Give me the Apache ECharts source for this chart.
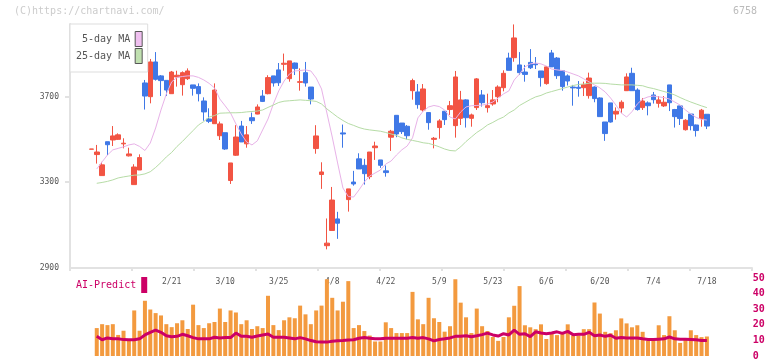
<!DOCTYPE html>
<html><head><meta charset="utf-8">
<script src="https://cdn.jsdelivr.net/npm/echarts@6/dist/echarts.min.js"></script>
<style>html,body{margin:0;padding:0;background:#fff}#c{width:772px;height:361px}</style>
</head><body><div id="c"></div>
<script>
const dates = ['1/30','1/31','2/3','2/4','2/5','2/6','2/7','2/10','2/12','2/13','2/14','2/17','2/18','2/19','2/20','2/21','2/25','2/26','2/27','2/28','3/3','3/4','3/5','3/6','3/7','3/10','3/11','3/12','3/13','3/14','3/17','3/18','3/19','3/21','3/24','3/25','3/26','3/27','3/28','3/31','4/1','4/2','4/3','4/4','4/7','4/8','4/9','4/10','4/11','4/14','4/15','4/16','4/17','4/18','4/21','4/22','4/23','4/24','4/25','4/28','4/30','5/1','5/2','5/7','5/8','5/9','5/12','5/13','5/14','5/15','5/16','5/19','5/20','5/21','5/22','5/23','5/26','5/27','5/28','5/29','5/30','6/2','6/3','6/4','6/5','6/6','6/9','6/10','6/11','6/12','6/13','6/16','6/17','6/18','6/19','6/20','6/23','6/24','6/25','6/26','6/27','6/30','7/1','7/2','7/3','7/4','7/7','7/8','7/9','7/10','7/11','7/14','7/15','7/16','7/17','7/18'];
const dateLabels = ['2/21','3/10','3/25','4/8','4/22','5/9','5/23','6/6','6/20','7/4','7/18'];
const priceLabels = [2900, 3300, 3700];
// [open, close, low, high]
const ohlc = [
[3454,3455,3454,3455],[3429,3441,3387,3474],[3331,3381,3331,3395],[3489,3475,3427,3489],[3497,3516,3469,3562],
[3500,3521,3497,3528],[3479,3482,3458,3505],[3423,3432,3420,3461],[3289,3371,3289,3384],[3357,3415,3357,3430],
[3763,3702,3639,3777],[3699,3861,3668,3875],[3861,3780,3774,3907],[3796,3774,3702,3800],[3775,3730,3702,3775],
[3713,3814,3713,3819],[3791,3799,3746,3820],[3755,3811,3704,3817],[3783,3819,3777,3831],[3754,3738,3704,3754],
[3746,3713,3677,3761],[3679,3628,3587,3696],[3595,3584,3576,3645],[3573,3730,3573,3761],[3517,3572,3497,3583],
[3531,3455,3451,3531],[3308,3390,3292,3390],[3426,3511,3423,3566],[3562,3488,3488,3586],[3479,3521,3461,3562],
[3601,3587,3572,3625],[3618,3651,3617,3663],[3702,3677,3674,3730],[3713,3788,3710,3799],[3796,3763,3746,3796],
[3824,3764,3749,3856],[3850,3855,3820,3900],[3783,3866,3769,3866],[3856,3830,3800,3858],[3766,3769,3727,3831],
[3811,3763,3746,3861],[3744,3688,3663,3744],[3457,3516,3433,3566],[3336,3348,3269,3393],[3004,3016,2987,3131],
[3075,3217,3075,3278],[3129,3109,3036,3162],[3530,3525,3461,3569],[3219,3269,3163,3269],[3301,3292,3284,3353],
[3409,3362,3362,3435],[3379,3340,3289,3409],[3326,3441,3314,3441],[3461,3469,3404,3489],[3404,3379,3367,3404],
[3353,3345,3326,3378],[3510,3538,3446,3544],[3612,3525,3510,3612],[3576,3536,3525,3576],[3561,3517,3500,3567],
[3727,3774,3685,3783],[3721,3662,3643,3758],[3637,3735,3629,3758],[3625,3578,3545,3625],[3500,3505,3458,3511],
[3555,3586,3503,3594],[3631,3592,3567,3631],[3639,3657,3614,3679],[3564,3791,3508,3819],[3598,3684,3567,3726],
[3684,3601,3555,3687],[3598,3614,3559,3620],[3648,3782,3637,3786],[3707,3671,3653,3730],[3648,3657,3625,3713],
[3665,3684,3657,3730],[3699,3744,3673,3752],[3741,3808,3724,3822],[3879,3822,3822,3904],[3881,3973,3862,4036],
[3847,3811,3800,3907],[3814,3803,3769,3847],[3859,3834,3828,3921],[3852,3848,3828,3884],[3819,3788,3746,3819],
[3760,3838,3755,3842],[3903,3838,3838,3917],[3879,3797,3782,3884],[3820,3746,3727,3820],[3796,3772,3751,3803],
[3744,3740,3657,3754],[3743,3738,3699,3772],[3741,3755,3702,3769],[3704,3786,3690,3811],[3744,3690,3673,3747],
[3693,3606,3606,3696],[3581,3527,3493,3581],[3670,3581,3578,3670],[3618,3631,3592,3649],[3646,3673,3622,3682],
[3727,3791,3726,3808],[3808,3727,3727,3834],[3730,3639,3634,3738],[3648,3679,3637,3693],[3670,3657,3612,3677],
[3707,3685,3667,3721],[3668,3684,3648,3702],[3656,3673,3651,3702],[3754,3671,3632,3754],[3639,3606,3555,3642],
[3656,3597,3567,3656],[3545,3589,3541,3594],[3618,3564,3542,3618],[3567,3541,3513,3569],[3597,3636,3559,3642],
[3617,3562,3548,3617]];
const ma5 = ['-',3362,3395,3427,3451,3458,3465,3474,3479,3467,3448,3483,3553,3637,3712,3768,3789,3793,3796,3796,3789,
3777,3761,3740,3688,3656,3623,3572,3525,3488,3474,3493,3544,3595,3665,3726,3772,3805,3819,3821,3824,
3819,3786,3735,3623,3511,3390,3273,3233,3231,3264,3301,3329,3343,3357,3385,3399,3427,3451,3469,3507,
3600,3632,3651,3658,3653,3637,3604,3595,3628,3651,3657,3658,3660,3665,3674,3693,3712,3726,3777,3805,
3838,3852,3856,3852,3842,3828,3824,3821,3814,3805,3796,3782,3768,3754,3740,3721,3693,3660,3623,3604,
3629,3665,3688,3698,3702,3698,3695,3688,3674,3660,3637,3618,3602,3593,3590];
const ma25 = ['-',3295,3299,3304,3311,3320,3325,3329,3333,3334,3339,3349,3369,3392,3418,3439,3467,3490,3516,3541,3567,
3583,3604,3611,3622,3623,3624,3624,3625,3628,3630,3632,3637,3649,3660,3672,3678,3680,3682,3684,3682,
3680,3677,3665,3642,3623,3604,3588,3574,3565,3555,3548,3544,3541,3538,3532,3525,3518,3507,3500,3495,
3490,3484,3481,3474,3465,3455,3448,3446,3465,3490,3511,3532,3548,3567,3579,3593,3604,3623,3637,3658,
3672,3686,3698,3705,3716,3723,3730,3737,3744,3751,3756,3758,3762,3762,3762,3761,3758,3756,3754,3754,
3754,3752,3750,3742,3737,3730,3723,3716,3707,3695,3684,3674,3665,3656,3648];
const volume = ['-',17.9,20.4,19.8,20.4,13.5,16.2,10.6,29.2,16.2,35.4,29.8,27.5,26.0,20.4,18.5,21.0,22.9,17.3,32.9,19.8,
17.9,21.0,21.8,30.4,21.8,29.2,27.9,20.4,22.9,17.3,19.1,17.9,38.6,19.8,16.6,22.9,24.8,24.2,32.3,26.7,
20.4,29.2,32.3,49.2,37.3,29.2,34.8,48.0,17.9,19.8,16.0,13.1,9.3,9.3,21.6,17.9,14.7,14.7,14.7,41.1,
23.5,20.4,37.3,24.2,21.8,15.6,19.1,49.2,34.2,24.8,14.7,30.4,19.1,16.0,12.2,9.7,12.2,24.8,32.2,44.8,
19.7,18.4,17.2,20.3,10.9,14.6,13.4,14.6,20.3,13.2,13.2,17.2,17.2,34.3,27.2,15.5,14.6,16.5,24.1,20.9,
18.4,19.7,15.5,9.8,10.9,19.7,13.4,25.5,16.5,8.4,10.9,16.5,13.4,12.1,12.5];
const aiPredict = ['-',12.6,10.4,11.6,11.0,11.0,10.5,10.4,10.4,11.0,13.5,15.2,16.6,15.2,13.0,12.4,12.6,13.9,13.0,11.8,11.0,
11.0,11.0,12.0,11.6,11.8,11.8,14.7,12.6,12.6,12.0,12.8,13.5,14.1,12.0,12.0,12.0,11.6,11.0,11.8,11.0,
9.9,9.1,8.9,8.9,9.5,9.7,9.9,10.2,10.4,11.4,11.8,11.4,11.0,11.0,11.4,11.4,11.4,11.4,11.4,11.8,
11.4,11.8,11.0,9.7,10.6,11.0,11.6,12.6,12.6,13.0,12.4,13.0,13.7,14.7,13.5,12.8,14.3,13.5,16.6,13.9,
14.3,12.4,15.5,14.7,14.3,14.7,15.5,14.5,15.8,13.7,13.9,13.9,15.2,13.0,13.5,12.6,13.3,11.4,11.8,11.6,
11.6,11.6,11.0,10.6,10.6,10.8,11.0,12.2,11.0,10.8,10.8,10.6,10.4,9.9,9.9];

const PAD_L = 4, PAD_R = 8;
const pad = a => [...Array(PAD_L).fill('-'), ...a, ...Array(PAD_R).fill('-')];
const cats = [...Array(PAD_L)].map((_, i) => 'a' + i).concat(dates, [...Array(PAD_R)].map((_, i) => 'b' + i));
const MONO = '"DejaVu Sans Mono", monospace';
const RED = '#f25443', BLUE = '#3f78e6';

const chart = echarts.init(document.getElementById('c'), null, {renderer: 'canvas'});
chart.setOption({
  animation: false,
  backgroundColor: '#fff',
  graphic: [
    {type: 'text', left: 14, top: 6, style: {text: '(C)https://chartnavi.com/', fill: '#cccccc', font: '10px ' + MONO}},
    {type: 'text', right: 15, top: 6, style: {text: '6758', fill: '#bbbbbb', font: '10px ' + MONO}}
  ],
  legend: [
    {
      left: 70, top: 24, orient: 'vertical', align: 'right',
      itemWidth: 7, itemHeight: 15, itemGap: 1,
      padding: [7, 5, 8, 6], borderColor: '#dddddd', borderWidth: 1, backgroundColor: '#fff',
      textStyle: {fontFamily: MONO, fontSize: 10, color: '#555', width: 54, align: 'right'},
      data: [
        {name: '5-day MA', icon: 'rect', itemStyle: {color: '#f0c0f0', borderColor: '#555', borderWidth: 1}},
        {name: '25-day MA', icon: 'rect', itemStyle: {color: '#c0e0b0', borderColor: '#555', borderWidth: 1}}
      ]
    },
    {
      left: 76, top: 277, align: 'right', itemWidth: 6, itemHeight: 16, padding: 0,
      textStyle: {fontFamily: MONO, fontSize: 10, color: '#cc0066'},
      data: [{name: 'AI-Predict', icon: 'rect', itemStyle: {color: '#cc0066'}}]
    }
  ],
  grid: [
    {left: 70, right: 22.3, top: 24, bottom: 93},
    {left: 70, right: 22.3, top: 278, bottom: 3.5},
    {left: 70, right: 20, top: 24, bottom: 93}
  ],
  xAxis: [
    {type: 'category', gridIndex: 0, data: cats, boundaryGap: false,
     axisLine: {show: false}, axisTick: {show: false}, splitLine: {show: false},
     axisLabel: {interval: (i, v) => dateLabels.includes(v), fontFamily: MONO, fontSize: 8, color: '#555', margin: 10}},
    {type: 'category', gridIndex: 1, data: cats, boundaryGap: false, show: false},
    {type: 'value', gridIndex: 2, min: 0, max: 11, interval: 1,
     axisLine: {show: true, lineStyle: {color: '#e2e2e2', width: 2}},
     axisTick: {show: true, length: 3, lineStyle: {color: '#e2e2e2', width: 2}},
     axisLabel: {show: false}, splitLine: {show: false}}
  ],
  yAxis: [
    {type: 'value', gridIndex: 0, min: 2900, max: 4038, scale: true,
     axisLine: {show: true, lineStyle: {color: '#e2e2e2', width: 2}},
     axisTick: {show: true, length: 5, customValues: [3300, 3700], lineStyle: {color: '#e2e2e2', width: 2}},
     axisLabel: {customValues: priceLabels, formatter: v => String(v), fontFamily: MONO, fontSize: 8, color: '#555', margin: 11},
     splitLine: {show: false}},
    {type: 'value', gridIndex: 1, min: 0, max: 50, interval: 10, position: 'right',
     axisLine: {show: false}, axisTick: {show: false}, splitLine: {show: false},
     axisLabel: {fontFamily: MONO, fontSize: 10, fontWeight: 'bold', color: '#cc0066', margin: 3}},
    {type: 'value', gridIndex: 2, min: 0, max: 1, show: false}
  ],
  series: [
    {type: 'candlestick', name: 'price', xAxisIndex: 0, yAxisIndex: 0, data: pad(ohlc), barWidth: 5,
     itemStyle: {color: RED, color0: BLUE, borderColor: RED, borderColor0: BLUE, borderWidth: 1}},
    {type: 'line', name: '5-day MA', xAxisIndex: 0, yAxisIndex: 0, data: pad(ma5), symbol: 'none',
     lineStyle: {color: '#e8b2e8', width: 1}, itemStyle: {color: '#f0c0f0'}},
    {type: 'line', name: '25-day MA', xAxisIndex: 0, yAxisIndex: 0, data: pad(ma25), symbol: 'none',
     lineStyle: {color: '#b6dca6', width: 1}, itemStyle: {color: '#c0e0b0'}},
    {type: 'bar', name: 'Volume', xAxisIndex: 1, yAxisIndex: 1, data: pad(volume), barWidth: 4,
     itemStyle: {color: '#f39a3f'}},
    {type: 'line', name: 'AI-Predict', xAxisIndex: 1, yAxisIndex: 1, data: pad(aiPredict), symbol: 'none',
     lineStyle: {color: '#cc0066', width: 3}, itemStyle: {color: '#cc0066'}, z: 5}
  ]
});
</script></body></html>
